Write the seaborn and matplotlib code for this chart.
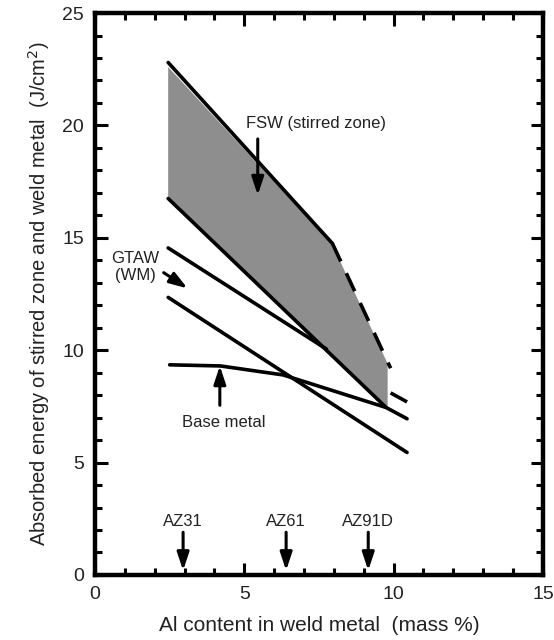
import matplotlib
matplotlib.use("Agg")
import matplotlib.pyplot as plt
import seaborn as sns
import pandas as pd
import numpy as np

sns.set_theme(style="white")
plt.rcParams['font.family'] = ['Liberation Sans', 'DejaVu Sans']

# ---- data ----
fsw_upper_x = [2.45, 7.95]
fsw_upper_y = [22.8, 14.75]
fsw_dash1_x = [7.95, 9.9]
fsw_dash1_y = [14.75, 9.2]
fsw_dash2_x = [9.9, 10.45]
fsw_dash2_y = [8.1, 7.7]
fsw_lower_x = [2.45, 9.75]
fsw_lower_y = [16.75, 7.45]
shade_x = [2.45, 7.95, 9.8, 9.8, 2.45]
shade_y = [22.6, 14.7, 9.4, 7.45, 16.75]
gtaw_upper_x = [2.45, 7.75]
gtaw_upper_y = [14.55, 10.05]
gtaw_lower_x = [2.45, 10.45]
gtaw_lower_y = [12.35, 5.45]
base_x = [2.5, 4.2, 6.3, 9.75, 10.45]
base_y = [9.35, 9.3, 8.9, 7.45, 6.95]

alloys = ["AZ31", "AZ61", "AZ91D"]
alloy_al = [2.95, 6.4, 9.15]

xticks = [0, 5, 10, 15]
yticks = [0, 5, 10, 15, 20, 25]

fig = plt.figure(figsize=(5.54, 6.4), dpi=100)
ax = fig.add_axes([0.1715, 0.1016, 0.8085, 0.878])

lw = 2.6
ax.fill(shade_x, shade_y, facecolor="#8e8e8e", edgecolor="none", zorder=1)

def line(x, y, **kw):
    df = pd.DataFrame({"x": x, "y": y})
    sns.lineplot(data=df, x="x", y="y", sort=False, estimator=None,
                 color="black", lw=lw, ax=ax, **kw)

dash = (0, (5.5, 3.6))
line(fsw_upper_x, fsw_upper_y)
line(fsw_dash1_x, fsw_dash1_y, linestyle=dash)
line(fsw_dash2_x, fsw_dash2_y, linestyle=dash)
line(fsw_lower_x, fsw_lower_y)
line(gtaw_upper_x, gtaw_upper_y)
line(gtaw_lower_x, gtaw_lower_y)
line(base_x, base_y)

arrow = dict(arrowstyle="-|>,head_length=0.9,head_width=0.3", color="black",
             lw=2.2, shrinkA=0, shrinkB=0)
fs = 12
tc = "#222222"
ax.annotate("", xy=(5.45, 16.9), xytext=(5.45, 19.4), arrowprops=arrow)
ax.text(7.4, 20.1, "FSW (stirred zone)", ha="center", va="center", fontsize=fs, color=tc)
ax.annotate("", xy=(3.1, 12.75), xytext=(2.3, 13.45), arrowprops=arrow)
ax.text(1.35, 13.7, "GTAW\n(WM)", ha="center", va="center", fontsize=fs,
        linespacing=1.2, color=tc)
ax.annotate("", xy=(4.18, 9.3), xytext=(4.18, 7.55), arrowprops=arrow)
ax.text(4.3, 6.8, "Base metal", ha="center", va="center", fontsize=fs, color=tc)

for name, al in zip(alloys, alloy_al):
    ax.annotate("", xy=(al, 0.2), xytext=(al, 1.9), arrowprops=arrow)
    ax.text(al, 2.4, name, ha="center", va="center", fontsize=fs, color=tc)

ax.set_xlim(0, 15)
ax.set_ylim(0, 25)
ax.set_xticks(xticks)
ax.set_yticks(yticks)
ax.set_xticks(np.arange(0, 16, 1), minor=True)
ax.set_yticks(np.arange(0, 26, 1), minor=True)
ax.tick_params(which="both", direction="in", top=True, right=True,
               bottom=True, left=True, width=2.2, color="black",
               labelcolor=tc)
ax.tick_params(which="major", length=9, labelsize=14, pad=8)
ax.tick_params(which="minor", length=5)
for s in ax.spines.values():
    s.set_linewidth(3.2)
    s.set_color("black")
ax.set_xlabel("Al content in weld metal  (mass %)", fontsize=15, labelpad=9,
              color=tc)
ax.set_ylabel("Absorbed energy of stirred zone and weld metal  (J/cm$^2$)",
              fontsize=14.5, labelpad=7, color=tc)
fig.savefig("out.png", dpi=100)
